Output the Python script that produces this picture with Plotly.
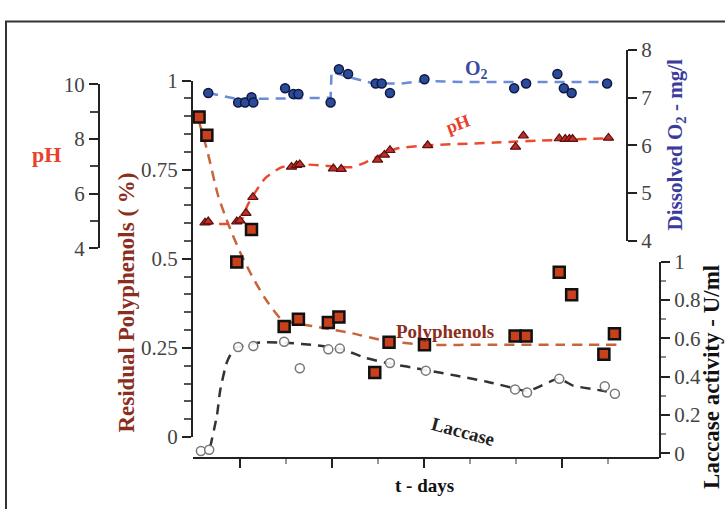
import plotly.graph_objects as go

W, H = 725, 509
def fx(p): return p / W
def fy(p): return 1 - p / H

# ---------------- data (days, values) ----------------
poly_t = [0.11, 0.28, 0.93, 1.25, 1.96, 2.27, 2.92, 3.15, 3.93, 4.24, 5.01, 6.98, 7.22, 7.94, 8.21, 8.91, 9.14]
poly_v = [0.898, 0.847, 0.491, 0.582, 0.310, 0.330, 0.321, 0.337, 0.181, 0.266, 0.259, 0.283, 0.283, 0.462, 0.399, 0.232, 0.290]
poly_fit_t = [0.11, 0.30, 0.52, 0.74, 1.0, 1.26, 1.54, 1.91, 2.26, 2.85, 3.43, 4.15, 5.02, 6.5, 8.0, 9.2]
poly_fit_v = [0.885, 0.797, 0.679, 0.599, 0.519, 0.452, 0.390, 0.329, 0.318, 0.305, 0.291, 0.270, 0.259, 0.259, 0.259, 0.259]

ph_t = [0.24, 0.31, 0.93, 1.0, 1.13, 1.28, 2.12, 2.23, 2.30, 3.03, 3.20, 3.99, 4.14, 4.26, 5.08, 6.99, 7.16, 7.94, 8.07, 8.16, 8.23, 9.01]
ph_v = [4.94, 4.98, 4.98, 5.01, 5.29, 5.87, 6.98, 7.04, 7.07, 6.92, 6.90, 7.24, 7.42, 7.59, 7.77, 7.71, 8.12, 8.02, 8.00, 8.00, 8.00, 8.04]
ph_fit_t = [0.17, 1.0, 1.17, 1.54, 1.91, 2.35, 3.02, 3.43, 3.72, 4.15, 4.43, 5.09, 5.35, 6.54, 7.02, 7.52, 8.67, 9.04]
ph_fit_v = [4.91, 4.97, 5.6, 6.55, 6.97, 7.07, 7.0, 6.97, 7.14, 7.49, 7.66, 7.77, 7.79, 7.87, 7.91, 7.94, 8.01, 8.03]

o2_t = [0.31, 0.96, 1.11, 1.25, 1.29, 1.98, 2.16, 2.27, 2.97, 3.15, 3.35, 3.95, 4.08, 4.26, 5.01, 6.96, 7.22, 7.90, 8.04, 8.21, 8.98]
o2_v = [7.10, 6.90, 6.90, 7.01, 6.90, 7.20, 7.08, 7.08, 6.90, 7.60, 7.50, 7.30, 7.30, 7.10, 7.39, 7.20, 7.30, 7.50, 7.20, 7.10, 7.30]
o2_fit_t = [0.31, 0.9, 1.5, 2.5, 2.97, 2.99, 3.3, 3.9, 4.5, 5.0, 6.0, 7.0, 8.0, 9.0]
o2_fit_v = [7.10, 6.98, 6.98, 7.0, 7.0, 7.55, 7.45, 7.3, 7.3, 7.35, 7.33, 7.33, 7.33, 7.33]

lac_t = [0.15, 0.33, 0.96, 1.29, 1.96, 2.30, 2.92, 3.17, 4.26, 5.04, 6.98, 7.24, 7.94, 8.93, 9.15]
lac_v = [0.011, 0.018, 0.554, 0.559, 0.582, 0.443, 0.542, 0.546, 0.471, 0.431, 0.333, 0.317, 0.388, 0.350, 0.310]
lac_fit_t = [0.35, 0.50, 0.57, 0.72, 0.89, 1.39, 1.98, 2.70, 3.28, 3.72, 4.15, 5.07, 6.37, 6.98, 7.24, 7.93, 8.24, 8.83, 9.15]
lac_fit_v = [0.030, 0.199, 0.328, 0.478, 0.547, 0.577, 0.577, 0.562, 0.537, 0.498, 0.473, 0.433, 0.373, 0.338, 0.323, 0.388, 0.353, 0.328, 0.313]

x_major = [1, 3, 5, 8]
x_minor = [2, 4, 6, 7, 9]

FONT = "Liberation Serif"
TICKF = dict(family=FONT, size=21, color="#444")

fig = go.Figure()

# fit lines
fig.add_trace(go.Scatter(x=o2_fit_t, y=o2_fit_v, mode="lines", xaxis="x", yaxis="y4",
                         line=dict(color="#6b8cd6", width=2.5, dash="10px,7px")))
fig.add_trace(go.Scatter(x=ph_fit_t, y=ph_fit_v, mode="lines", xaxis="x", yaxis="y3",
                         line=dict(color="#ec4a30", width=2.5, dash="10px,7px", shape="spline", smoothing=0.6)))
fig.add_trace(go.Scatter(x=poly_fit_t, y=poly_fit_v, mode="lines", xaxis="x", yaxis="y",
                         line=dict(color="#c8643c", width=2.5, dash="10px,7px", shape="spline", smoothing=0.6)))
fig.add_trace(go.Scatter(x=lac_fit_t, y=lac_fit_v, mode="lines", xaxis="x", yaxis="y2",
                         line=dict(color="#333", width=2.5, dash="10px,7px", shape="spline", smoothing=0.6)))

# markers
fig.add_trace(go.Scatter(x=o2_t, y=o2_v, mode="markers", xaxis="x", yaxis="y4",
                         marker=dict(symbol="circle", size=9, color="#2a4a9a", line=dict(color="#101840", width=1.5))))
fig.add_trace(go.Scatter(x=ph_t, y=ph_v, mode="markers", xaxis="x", yaxis="y3",
                         marker=dict(symbol="triangle-up", size=9, color="#c42c26", line=dict(color="#5a1010", width=1.2))))
fig.add_trace(go.Scatter(x=lac_t, y=lac_v, mode="markers", xaxis="x", yaxis="y2",
                         marker=dict(symbol="circle", size=9, color="rgba(255,255,255,0.9)", line=dict(color="#777", width=1.5))))
fig.add_trace(go.Scatter(x=poly_t, y=poly_v, mode="markers", xaxis="x", yaxis="y",
                         marker=dict(symbol="square", size=11, color="#c8401c", line=dict(color="#111", width=2.5))))

common = dict(showgrid=False, zeroline=False, showline=True, linecolor="#222", linewidth=2,
              ticks="outside", tickcolor="#222", tickwidth=2, tickfont=TICKF)

x0px, x1px = 193, 659
def d_of(px): return (px - 194) / 46.0

fig.update_layout(
    width=W, height=H, margin=dict(l=0, r=0, t=0, b=0),
    paper_bgcolor="white", plot_bgcolor="rgba(0,0,0,0)", showlegend=False,
    xaxis=dict(domain=[fx(x0px), fx(x1px)], range=[d_of(x0px), d_of(x1px)], anchor="free",
               position=fy(468), showticklabels=False, tickmode="array", tickvals=x_major, ticklen=9,
               minor=dict(tickmode="array", tickvals=x_minor, ticklen=5, tickcolor="#999", tickwidth=1.5, ticks="outside"),
               **common),
    yaxis=dict(domain=[fy(446), fy(72)], range=[0, 1], anchor="x", side="left",
               tickmode="array", tickvals=[0, 0.25, 0.5, 0.75, 1], ticktext=["0", "0.25", "0.5", "0.75", "1"], ticklen=9,
               minor=dict(dtick=0.05, tick0=0, ticklen=7, tickcolor="#555", tickwidth=1.5, ticks="outside"),
               **common),
    yaxis2=dict(domain=[fy(468), fy(262)], range=[(463 - 468) / 201.0, 1.0], anchor="x", side="right",
                tickmode="array", tickvals=[0, 0.2, 0.4, 0.6, 0.8, 1], ticktext=["0", "0.2", "0.4", "0.6", "0.8", "1"], ticklen=9,
                minor=dict(dtick=0.1, tick0=0, ticklen=5, tickcolor="#888", tickwidth=1.5, ticks="outside"),
                **common),
    yaxis3=dict(domain=[fy(248), fy(76)], range=[4, 10], anchor="free", position=fx(99), side="left",
                tickmode="array", tickvals=[4, 6, 8, 10], ticklen=9,
                minor=dict(tickmode="array", tickvals=[5, 7, 9], ticklen=8, tickcolor="#444", tickwidth=1.5, ticks="outside"),
                **common),
    yaxis4=dict(domain=[fy(240), fy(40)], range=[4, 8], anchor="free", position=fx(627), side="right",
                tickmode="array", tickvals=[4, 5, 6, 7, 8], ticklen=9,
                **common),
)

def ann(text, x, y, color, size, angle=0):
    fig.add_annotation(text=text, x=fx(x), y=fy(y), xref="paper", yref="paper", showarrow=False,
                       textangle=angle, font=dict(family=FONT, size=size, color=color),
                       xanchor="center", yanchor="middle")

ann("<b>pH</b>", 46, 150, "#e8402a", 22)
ann("<b>Residual Polyphenols ( %)</b>", 127, 305, "#8b2e1e", 23, -90)
ann("<b>Dissolved O<sub>2</sub> - mg/l</b>", 676, 140, "#3b3b9c", 21, -90)
ann("<b>Laccase activity - U/ml</b>", 712, 383, "#111", 23, -90)
ann("<b>O<sub>2</sub></b>", 476, 60, "#3b4aa0", 20)
ann("<b>pH</b>", 458, 118, "#e8402a", 18, -20)
ann("<b>Polyphenols</b>", 445, 335, "#8b2e1e", 19)
ann("<b>Laccase</b>", 463, 440, "#222", 19, 15)
ann("<b>t - days</b>", 425, 497, "#111", 19)

fig.add_shape(type="rect", xref="paper", yref="paper", x0=fx(6), x1=1.05, y0=-0.05, y1=fy(10),
              line=dict(color="#333", width=2))

fig.write_html("out.html")
